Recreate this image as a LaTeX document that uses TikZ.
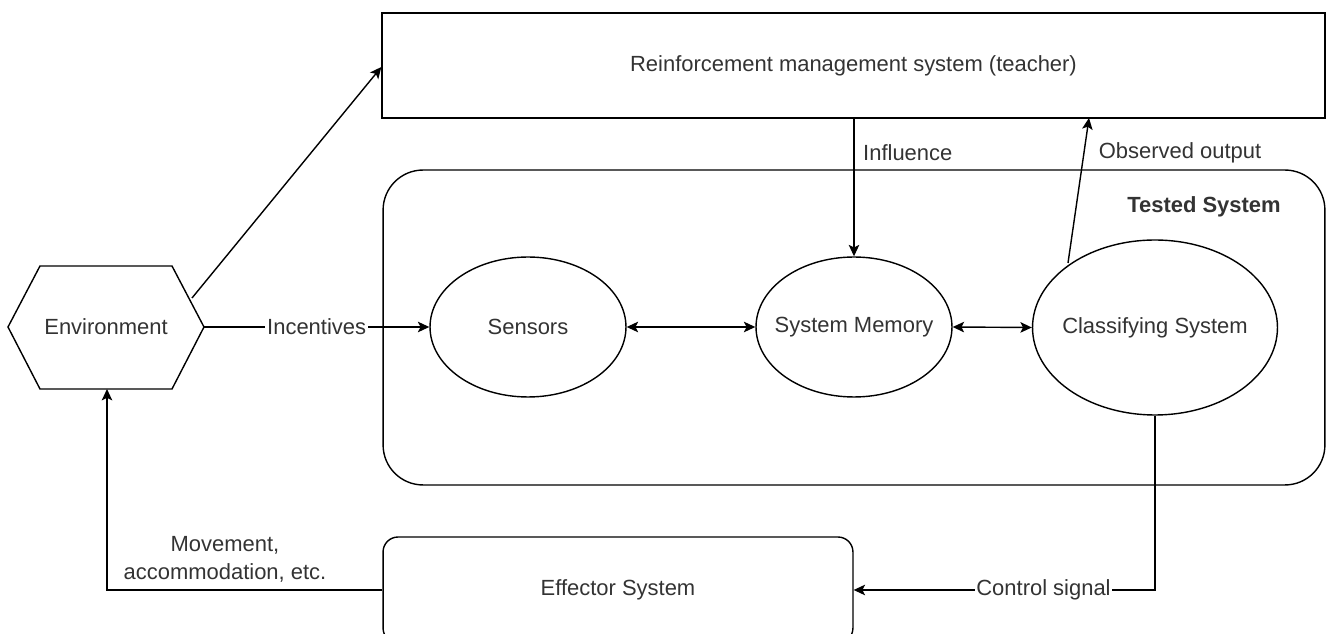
\documentclass[tikz,border=0pt]{standalone}
\usepackage{fontspec}
\setmainfont{Liberation Sans}
\usetikzlibrary{shapes.geometric,arrows.meta}
\begin{document}
\begin{tikzpicture}[x=0.02cm,y=-0.02cm,
  font=\fontsize{12.5}{15}\selectfont,
  every node/.style={text=black!80},
  ln/.style={line width=0.8pt,draw=black},
  arr/.style={ln,-{Stealth[length=6.5pt,width=6pt,inset=1.5pt]}},
  darr/.style={ln,{Stealth[length=6.5pt,width=6pt,inset=1.5pt]}-{Stealth[length=6.5pt,width=6pt,inset=1.5pt]}},
  ell/.style={ellipse,ln,inner sep=0pt},
  lbl/.style={fill=white,inner sep=1pt}]
\useasboundingbox (0,0) rectangle (1333,634);
\clip (0,0) rectangle (1333,634);
% teacher
\node[ln,rectangle,minimum width=18.86cm,minimum height=2.1cm,inner sep=0pt] (teach) at (853.5,65.5) {Reinforcement management system (teacher)};
% tested system
\node[ln,rectangle,rounded corners=0.8cm,minimum width=18.84cm,minimum height=6.3cm,inner sep=0pt] (tested) at (854,327.5) {};
\node[font=\fontsize{12.5}{15}\selectfont\bfseries] (tlabel) at (1204,207) {Tested System};
% environment hexagon
\coordinate (h1) at (8,327);
\coordinate (h2) at (40,266);
\coordinate (h3) at (172,266);
\coordinate (h4) at (204,327);
\coordinate (h5) at (172,389);
\coordinate (h6) at (40,389);
\draw[ln,line join=miter] (h1)--(h2)--(h3)--(h4)--(h5)--(h6)--cycle;
\node (env) at (106,327) {Environment};
\coordinate (envup) at (192,298);
\coordinate (envbot) at (107,389);
% ellipses (fixed size, text placed on top)
\node[ell,minimum width=3.92cm,minimum height=2.8cm] (sens) at (528,327) {};
\node (senst) at (sens.center) {Sensors};
\node[ell,minimum width=3.92cm,minimum height=2.8cm] (mem) at (854,327) {};
\node (memt) at (mem.center) {System Memory};
\node[ell,minimum width=4.9cm,minimum height=3.5cm] (cls) at (1155,327.5) {};
\node (clst) at (cls.center) {Classifying System};
% effector
\node[ln,rectangle,rounded corners=0.3cm,minimum width=9.4cm,minimum height=2.12cm,inner sep=0pt] (eff) at (618,590) {Effector System};
% connectors
\draw[arr] (envup) -- (teach.west |- 0,67);
\draw[arr] (h4) -- node[lbl] (inc) {Incentives} (sens.west);
\draw[darr] (sens.east) -- (mem.west);
\draw[darr] (mem.east) -- (cls.west);
\draw[arr] (teach.south -| mem.north) -- (mem.north);
\node[anchor=west] (infl) at (857,153) {Influence};
\coordinate (obsstart) at (1068,263);
\coordinate (obsend) at (1089,118);
\draw[arr] (obsstart) -- (obsend);
\node (obs) at (1180,153) {Observed output};
\coordinate (cturn) at (1155,590);
\draw[arr] (cls.south) -- (cturn) -- node[lbl,pos=0.37] (ctl) {Control signal} (eff.east);
\coordinate (mturn) at (107,590);
\draw[arr] (eff.west) -- (mturn) -- (envbot);
\node[align=center,font=\fontsize{12.5}{16}\selectfont] (mov) at (225,559) {Movement,\\accommodation, etc.};
\end{tikzpicture}
\end{document}
